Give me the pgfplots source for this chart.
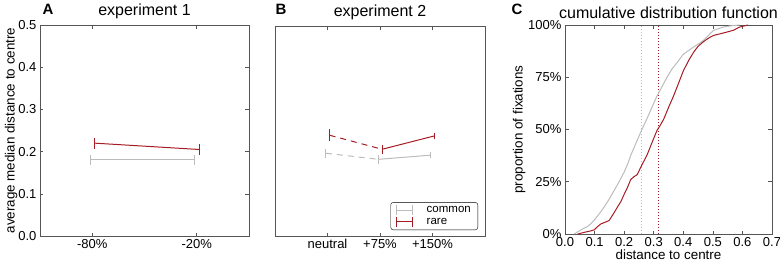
\documentclass[border=0pt]{standalone}
\usepackage{pgfplots}
\pgfplotsset{compat=1.18}
\usepackage{fontspec}
\setmainfont{Liberation Sans}
\definecolor{myred}{RGB}{165,28,36}
\definecolor{mygrey}{RGB}{188,188,188}
\definecolor{axgrey}{RGB}{85,85,85}

\pgfplotstableread{
x y
0.031 0.000
0.054 0.020
0.075 0.035
0.087 0.048
0.099 0.067
0.115 0.095
0.132 0.128
0.150 0.168
0.166 0.208
0.183 0.250
0.200 0.296
0.212 0.335
0.222 0.375
0.240 0.435
0.260 0.500
0.275 0.545
0.289 0.590
0.300 0.625
0.311 0.660
0.328 0.705
0.345 0.750
0.362 0.790
0.379 0.820
0.400 0.860
0.418 0.878
0.435 0.895
0.452 0.910
0.468 0.926
0.485 0.950
0.502 0.974
0.535 0.990
0.560 0.996
0.590 1.000
}\cdfcommon

\pgfplotstableread{
x y
0.043 0.000
0.065 0.008
0.085 0.014
0.099 0.020
0.110 0.035
0.121 0.048
0.135 0.056
0.149 0.064
0.163 0.095
0.177 0.128
0.190 0.158
0.200 0.190
0.212 0.225
0.222 0.260
0.233 0.274
0.244 0.284
0.260 0.330
0.278 0.380
0.295 0.440
0.311 0.495
0.322 0.520
0.334 0.550
0.350 0.605
0.367 0.660
0.385 0.725
0.400 0.780
0.418 0.830
0.435 0.870
0.450 0.898
0.468 0.920
0.485 0.937
0.502 0.950
0.525 0.958
0.547 0.966
0.570 0.975
0.590 0.990
0.619 1.000
}\cdfrare

\begin{document}
\begin{tikzpicture}
\pgfplotsset{
 every axis/.append style={
  scale only axis,
  anchor=south west,
  axis line style={axgrey, line width=0.9pt},
  tick style={axgrey, line width=0.6pt},
  tick align=inside, major tick length=3.5pt,
  tick label style={font=\fontsize{13}{15}\selectfont},
  label style={font=\fontsize{13.4}{15}\selectfont},
  title style={font=\fontsize{16}{18}\selectfont, yshift=-3pt},
  /pgf/number format/assume math mode=true,
  clip=false,
 },
 ebar/.style={error bars/y dir=both, error bars/y explicit, error bars/error mark=none, error bars/error bar style={line width=1pt, solid}},
 greyleg/.style={legend image code/.code={\draw[mygrey,line width=1pt] (0pt,0pt)--(16pt,0pt); \draw[mygrey,line width=1pt] (0pt,-5pt)--(0pt,5pt); \draw[mygrey,line width=1pt] (16pt,-5pt)--(16pt,5pt);}},
 redleg/.style={legend image code/.code={\draw[myred,line width=1pt] (0pt,0pt)--(16pt,0pt); \draw[myred,line width=1pt] (0pt,-5pt)--(0pt,5pt); \draw[myred,line width=1pt] (16pt,-5pt)--(16pt,5pt);}},
}

% Panel A
\begin{axis}[at={(40pt,30pt)}, width=209pt, height=211pt,
  xmin=-0.5, xmax=1.5, ymin=0, ymax=0.5,
  xtick={0,1}, xticklabels={-80\%,-20\%},
  ytick={0,0.1,0.2,0.3,0.4,0.5},
  yticklabel style={/pgf/number format/.cd, fixed, fixed zerofill, precision=1},
  ylabel={average median distance to centre},
  ylabel style={yshift=-6pt},
  title={experiment 1}]
\addplot[mygrey, line width=1pt, ebar] coordinates {(-0.02,0.181) +- (0,0.012) (0.98,0.181) +- (0,0.012)};
\addplot[myred, line width=1pt, ebar] coordinates {(0.025,0.220) +- (0,0.013) (1.025,0.205) +- (0,0.013)};
\end{axis}

% Panel B
\begin{axis}[at={(275pt,30pt)}, width=210pt, height=209.5pt,
  xmin=-1, xmax=3, ymin=0, ymax=0.5,
  xtick={0,1,2}, xticklabels={neutral,+75\%,+150\%},
  ytick=\empty,
  title={experiment 2},
  legend style={at={(1,0)}, anchor=south east, xshift=-7pt, yshift=6pt,
    draw=black, rounded corners=2.5pt, font=\fontsize{11.5}{13}\selectfont,
    inner xsep=5pt, inner ysep=2pt, row sep=0pt,
    /tikz/every odd column/.append style={column sep=12pt},
    cells={anchor=west}},
  legend cell align=left]
\addplot[forget plot, mygrey, line width=1pt, dash pattern=on 6pt off 5pt, ebar] coordinates {(-0.03,0.1975) +- (0,0.011) (0.97,0.183) +- (0,0.01)};
\addplot[mygrey, line width=1pt, greyleg, ebar] coordinates {(0.97,0.183) +- (0,0.01) (1.97,0.193) +- (0,0.008)};
\addlegendentry{common}
\addplot[forget plot, myred, line width=1pt, dash pattern=on 6pt off 5pt, ebar] coordinates {(0.04,0.2405) +- (0,0.014) (1.04,0.207) +- (0,0.0105)};
\addplot[myred, line width=1pt, redleg, ebar] coordinates {(1.04,0.207) +- (0,0.0105) (2.04,0.239) +- (0,0.008)};
\addlegendentry{rare}
\end{axis}

% Panel C
\begin{axis}[at={(565pt,32pt)}, width=207pt, height=209pt,
  xmin=0, xmax=0.7, ymin=0, ymax=1,
  xtick={0,0.1,0.2,0.3,0.4,0.5,0.6,0.7},
  xticklabel style={/pgf/number format/.cd, fixed, fixed zerofill, precision=1},
  ytick={0,0.25,0.5,0.75,1}, yticklabels={0\%,25\%,50\%,75\%,100\%},
  xlabel={distance to centre}, xlabel style={yshift=4pt},
  ylabel={proportion of fixations}, ylabel style={yshift=-4pt},
  title={cumulative distribution function}]
\addplot[mygrey, line width=0.8pt, dash pattern=on 1pt off 2pt] coordinates {(0.26,0) (0.26,1)};
\addplot[myred, line width=1.2pt, dash pattern=on 1.5pt off 1.5pt] coordinates {(0.315,0) (0.315,1)};
\addplot[mygrey, line width=1pt] table[x=x,y=y] {\cdfcommon};
\addplot[myred, line width=1pt] table[x=x,y=y] {\cdfrare};
\end{axis}

\node[font=\bfseries\fontsize{15}{15}\selectfont] at (48pt,257pt) {A};
\node[font=\bfseries\fontsize{15}{15}\selectfont] at (281pt,257pt) {B};
\node[font=\bfseries\fontsize{15}{15}\selectfont] at (517pt,257pt) {C};
\pgfresetboundingbox
\useasboundingbox (0pt,0pt) rectangle (780pt,266pt);
\end{tikzpicture}
\end{document}
